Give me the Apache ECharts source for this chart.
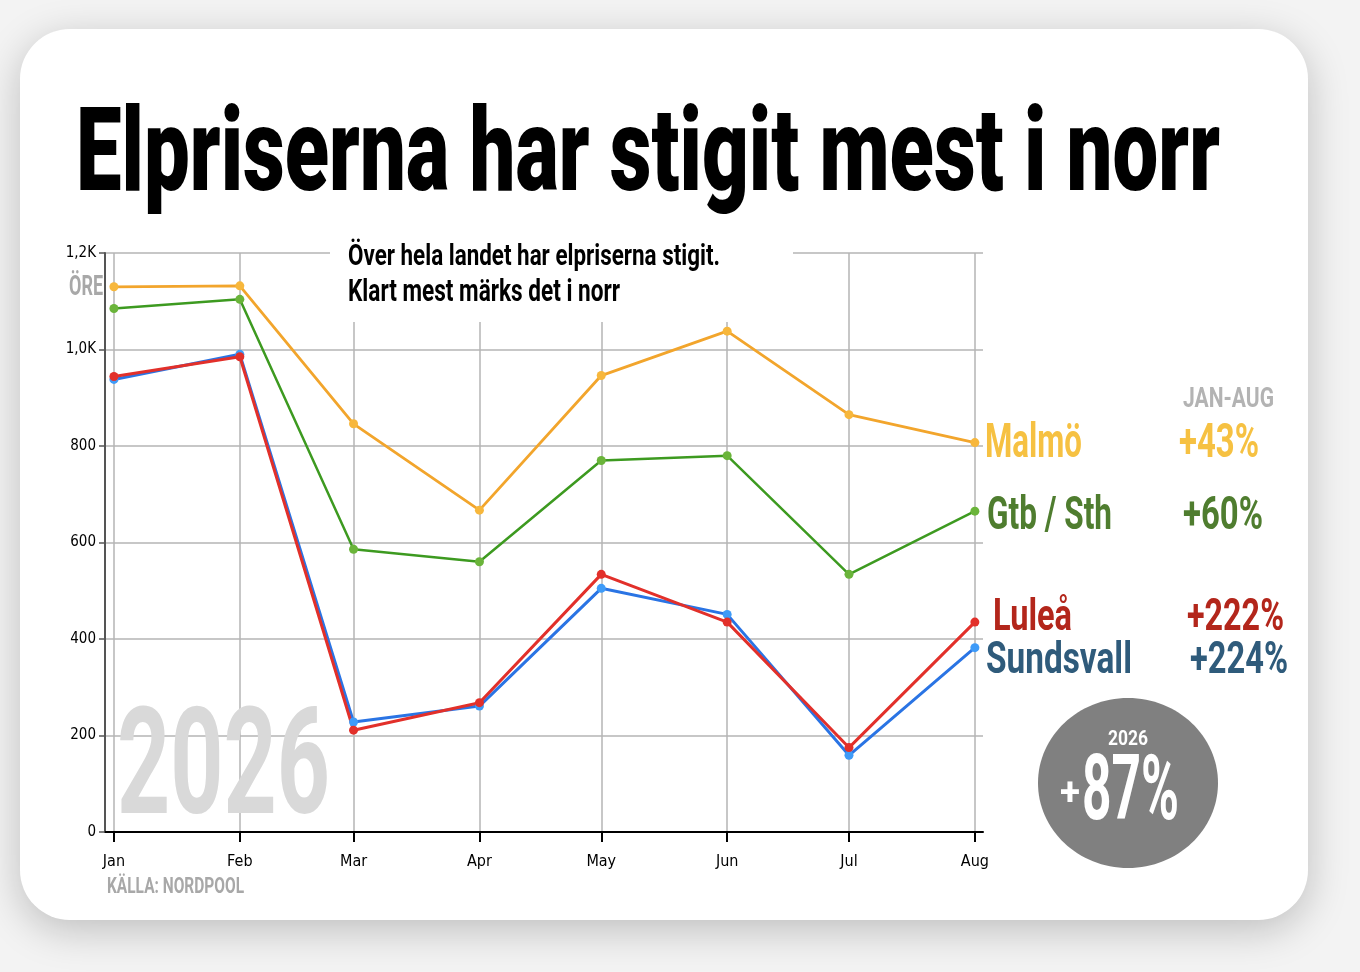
<!DOCTYPE html>
<html>
<head>
<meta charset="utf-8">
<title>Elpriserna har stigit mest i norr</title>
<script src="https://cdn.jsdelivr.net/npm/echarts@6/dist/echarts.min.js"></script>
<style>
  html, body { margin: 0; padding: 0; background: #f3f3f3; }
  #chart { width: 1360px; height: 972px; }
</style>
</head>
<body>
<div id="chart"></div>
<script>
// data (öre/kWh, first of each month)
var months = ['Jan', 'Feb', 'Mar', 'Apr', 'May', 'Jun', 'Jul', 'Aug'];
var malmo = [1130, 1132, 846, 667, 946, 1038, 865, 807];
var gtbSth = [1085, 1104, 586, 560, 770, 780, 534, 665];
var lulea = [944, 985, 211, 268, 534, 435, 175, 435];
var sundsvall = [938, 990, 228, 261, 505, 451, 159, 382];
var yTickLabels = ['0', '200', '400', '600', '800', '1,0K', '1,2K'];

var DAY = 86400000;
var monthDates = months.map(function(m, i) { return Date.UTC(2026, i, 1); });

function toSeries(vals) {
    return vals.map(function(v, i) { return [monthDates[i], v]; });
}

// condensed look: measure text and squeeze it to the width seen in the picture
var measureCtx = document.createElement('canvas').getContext('2d');
function fitText(str, left, midY, capH, width, color, z, weight) {
    var size = capH / 0.711;
    var font = (weight || 'bold') + ' ' + size.toFixed(1) + 'px Roboto';
    measureCtx.font = font;
    var w = measureCtx.measureText(str).width;
    return {
        type: 'text',
        x: left,
        y: midY + 0.15 * capH,   // 'middle' sits a bit above cap centre
        scaleX: width / w,
        z: z == null ? 5 : z,
        silent: true,
        style: { text: str, font: font, fill: color, align: 'left', verticalAlign: 'middle' }
    };
}

var chart = echarts.init(document.getElementById('chart'));

var option = {
    useUTC: true,
    animation: false,
    backgroundColor: 'transparent',
    grid: { left: 105, right: 377, top: 253, bottom: 140, containLabel: false },
    xAxis: {
        type: 'time',
        min: monthDates[0] - 2.2 * DAY,
        max: monthDates[7] + 2 * DAY,
        splitNumber: 8,
        minInterval: 28 * DAY,
        maxInterval: 31 * DAY,
        axisLine: { lineStyle: { color: '#000', width: 2 } },
        axisTick: { show: true, length: 10, lineStyle: { color: '#000', width: 2 } },
        axisLabel: {
            color: '#000',
            fontSize: 16,
            fontFamily: '"Liberation Sans Narrow", "DejaVu Sans Condensed", Roboto',
            margin: 22,
            formatter: function(v) { return months[new Date(v).getUTCMonth()]; }
        },
        splitLine: {
            show: true, showMinLine: false, showMaxLine: false,
            lineStyle: { color: '#b4b4b4', width: 1.5 }
        }
    },
    yAxis: {
        type: 'value',
        min: 0,
        max: 1200,
        interval: 200,
        axisLine: { show: true, lineStyle: { color: '#555', width: 2 } },
        axisTick: { show: true, length: 6, lineStyle: { color: '#555', width: 1.5 } },
        axisLabel: {
            color: '#000',
            fontSize: 15,
            fontFamily: '"Liberation Sans Narrow", "DejaVu Sans Condensed", Roboto',
            margin: 9,
            formatter: function(v) { return yTickLabels[v / 200]; }
        },
        splitLine: { show: true, lineStyle: { color: '#b4b4b4', width: 1.5 } }
    },
    series: [
        {
            name: 'Malmö',
            type: 'line',
            data: toSeries(malmo),
            symbol: 'circle',
            symbolSize: 9,
            itemStyle: { color: '#f7b73c' },
            lineStyle: { color: '#f2a52c', width: 2.8 }
        },
        {
            name: 'Gtb / Sth',
            type: 'line',
            data: toSeries(gtbSth),
            symbol: 'circle',
            symbolSize: 9,
            itemStyle: { color: '#6ab43a' },
            lineStyle: { color: '#3d9a20', width: 2.5 }
        },
        {
            name: 'Sundsvall',
            type: 'line',
            data: toSeries(sundsvall),
            symbol: 'circle',
            symbolSize: 9,
            itemStyle: { color: '#3e9bf8' },
            lineStyle: { color: '#2a74e4', width: 3 }
        },
        {
            name: 'Luleå',
            type: 'line',
            data: toSeries(lulea),
            symbol: 'circle',
            symbolSize: 9,
            itemStyle: { color: '#e2302a' },
            lineStyle: { color: '#e2302a', width: 3 }
        }
    ],
    graphic: [
        // card
        {
            type: 'rect', z: -10, silent: true,
            shape: { x: 20, y: 29, width: 1288, height: 891, r: 50 },
            style: { fill: '#fff', shadowBlur: 40, shadowOffsetY: 10, shadowColor: 'rgba(0,0,0,0.22)' }
        },
        fitText('Elpriserna har stigit mest i norr', 76, 148.5, 83, 1144, '#000', 5, 900),
        // white box behind the subtitle
        {
            type: 'rect', z: 3, silent: true,
            shape: { x: 330, y: 233, width: 463, height: 89 },
            style: { fill: '#fff' }
        },
        fitText('Över hela landet har elpriserna stigit.', 348, 254, 21, 372, '#000'),
        fitText('Klart mest märks det i norr', 348, 290, 22, 272, '#000'),
        fitText('ÖRE', 69, 285, 20, 34, '#a8a8a8'),
        fitText('KÄLLA: NORDPOOL', 107, 885, 16, 137, '#a8a8a8'),
        fitText('2026', 117, 760, 106, 213, '#d9d9d9', 1),
        fitText('JAN-AUG', 1183, 397, 20, 91, '#b3b3b3'),
        fitText('Malmö', 985, 440, 34, 97, '#f6c142'),
        fitText('+43%', 1179, 440, 34, 80, '#f6c142'),
        fitText('Gtb / Sth', 987, 512, 33, 125, '#4f7d2f'),
        fitText('+60%', 1183, 512, 33, 80, '#4f7d2f'),
        fitText('Luleå', 993, 614, 32, 79, '#b3261b'),
        fitText('+222%', 1187, 614, 32, 97, '#b3261b'),
        fitText('Sundsvall', 986, 657, 32, 146, '#2f5b7b'),
        fitText('+224%', 1190, 657, 32, 98, '#2f5b7b'),
        {
            type: 'ellipse', z: 4, silent: true,
            shape: { cx: 1128, cy: 783, rx: 90, ry: 85 },
            style: { fill: '#808080' }
        },
        fitText('2026', 1108, 737, 15, 40, '#fff'),
        fitText('+', 1060, 791, 28, 20, '#fff'),
        fitText('87%', 1082, 787, 64, 97, '#fff')
    ]
};

chart.setOption(option);
</script>
</body>
</html>
